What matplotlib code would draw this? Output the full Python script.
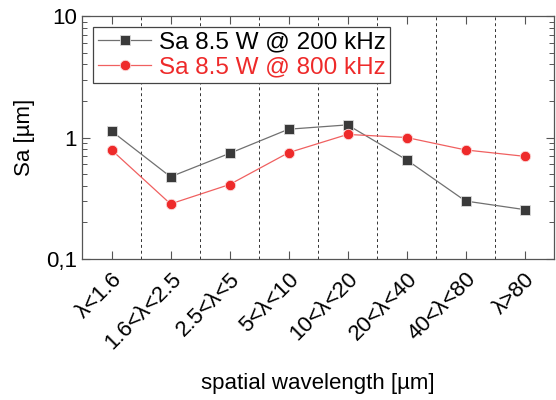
import matplotlib
matplotlib.use("Agg")
import matplotlib.pyplot as plt
from matplotlib.ticker import FixedLocator, LogLocator, NullFormatter

plt.rcParams["font.family"] = ["Liberation Sans", "DejaVu Sans"]

categories = ["λ<1.6", "1.6<λ<2.5", "2.5<λ<5", "5<λ<10",
              "10<λ<20", "20<λ<40", "40<λ<80", "λ>80"]
sa_200khz = [1.13, 0.475, 0.74, 1.17, 1.27, 0.655, 0.30, 0.255]
sa_800khz = [0.79, 0.284, 0.41, 0.75, 1.06, 1.00, 0.79, 0.70]
y_ticks = [0.1, 1, 10]
y_tick_labels = ["0,1", "1", "10"]

fig = plt.figure(figsize=(5.56, 4.0), dpi=100)
ax = fig.add_axes([0.1475, 0.3525, 0.849, 0.6075])

x = list(range(len(categories)))
ax.plot(x, sa_200khz, color="#707070", lw=0.9, marker="s", ms=6.5,
        mfc="#3a3a3a", mec="#dddddd", mew=0.6, label="Sa 8.5 W @ 200 kHz")
ax.plot(x, sa_800khz, color="#f06060", lw=0.9, marker="o", ms=7.5,
        mfc="#ee2a2a", mec="#fbdada", mew=0.6, label="Sa 8.5 W @ 800 kHz")

# dashed separators between wavelength bins
for b in range(len(categories) - 1):
    ax.axvline(b + 0.5, color="#333333", ls=(0, (3, 3)), lw=0.7, zorder=0)

ax.set_yscale("log")
ax.set_ylim(0.1, 10)
ax.set_xlim(-0.5, len(categories) - 0.5)
ax.yaxis.set_major_locator(FixedLocator(y_ticks))
ax.set_yticklabels(y_tick_labels)
ax.yaxis.set_minor_locator(LogLocator(base=10, subs=range(2, 10)))
ax.yaxis.set_minor_formatter(NullFormatter())
ax.set_xticks(x)
ax.set_xticklabels(categories, rotation=45, ha="right", rotation_mode="anchor")

ax.tick_params(axis="both", which="both", direction="in", top=True, right=True,
               color="#555555", labelsize=16)
ax.tick_params(axis="both", which="major", length=6, width=0.8)
ax.tick_params(axis="y", which="minor", length=3.5, width=0.7)
ax.tick_params(axis="x", which="major", pad=7)
for s in ax.spines.values():
    s.set_color("#555555")
    s.set_linewidth(0.9)

ax.set_ylabel("Sa [µm]", fontsize=16, labelpad=8)
ax.set_xlabel("spatial wavelength [µm]", fontsize=16, labelpad=14)

leg = ax.legend(loc="upper left", fontsize=17.5, frameon=True, fancybox=False,
                borderpad=0.2, handlelength=2.2, handletextpad=0.3,
                labelspacing=0.1, borderaxespad=0.45, bbox_to_anchor=(0.0, 1.0))
leg.get_frame().set_edgecolor("#444444")
leg.get_frame().set_linewidth(0.9)
leg.get_frame().set_alpha(1)
leg.get_texts()[1].set_color("#ee2a2a")

fig.savefig("out.png", dpi=100)
